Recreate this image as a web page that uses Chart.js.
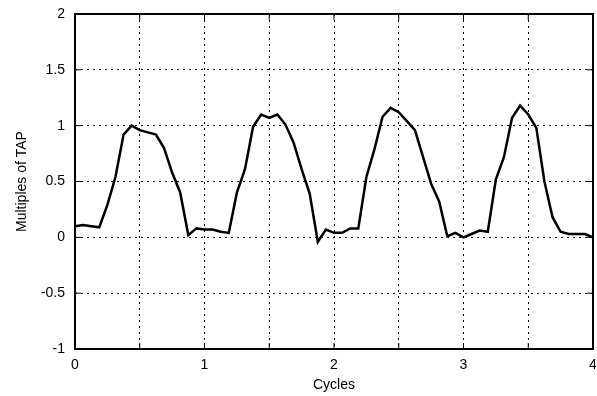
<!DOCTYPE html>
<html>
<head>
<meta charset="utf-8">
<script src="https://cdn.jsdelivr.net/npm/chart.js@4"></script>
<style>
  html, body { margin: 0; padding: 0; background: #fff; }
  #wrap { width: 597px; height: 396px; }
</style>
</head>
<body>
<div id="wrap"><canvas id="c"></canvas></div>
<script>
// ─── Data: one sample every 1/16 cycle ───────────────────────────
const STEP = 1 / 16;
const tapValues = [
  0.10, 0.11, 0.10, 0.09, 0.29, 0.54, 0.92, 1.00, 0.96, 0.94, 0.92, 0.80, 0.58, 0.40, 0.02, 0.08,
  0.07, 0.07, 0.05, 0.04, 0.40, 0.61, 0.99, 1.10, 1.07, 1.10, 1.01, 0.85, 0.61, 0.39, -0.04, 0.07,
  0.04, 0.04, 0.08, 0.08, 0.54, 0.79, 1.08, 1.16, 1.12, 1.04, 0.96, 0.72, 0.48, 0.32, 0.01, 0.04,
  0.00, 0.03, 0.06, 0.05, 0.52, 0.72, 1.07, 1.18, 1.10, 0.98, 0.50, 0.18, 0.05, 0.03, 0.03, 0.03,
  0.00
];
const xTicks = [0, 1, 2, 3, 4];
const yTicks = [-1, -0.5, 0, 0.5, 1, 1.5, 2];

const points = tapValues.map((v, i) => ({ x: i * STEP, y: v }));

const FONT = 'Liberation Sans, Arial, sans-serif';

// frame around the plot area, like the gnuplot border
const frame = {
  id: 'frame',
  afterDraw(chart) {
    const { ctx, chartArea: a, scales } = chart;
    ctx.save();
    ctx.strokeStyle = '#000';
    ctx.lineWidth = 2;
    ctx.strokeRect(a.left, a.top, a.right - a.left, a.bottom - a.top);
    // small inward tick marks
    ctx.lineWidth = 1;
    for (let v = 0; v <= 4; v += 0.5) {
      const px = scales.x.getPixelForValue(v);
      ctx.beginPath();
      ctx.moveTo(px, a.bottom); ctx.lineTo(px, a.bottom - 6);
      ctx.moveTo(px, a.top); ctx.lineTo(px, a.top + 6);
      ctx.stroke();
    }
    yTicks.forEach(v => {
      const py = scales.y.getPixelForValue(v);
      ctx.beginPath();
      ctx.moveTo(a.left, py); ctx.lineTo(a.left + 6, py);
      ctx.moveTo(a.right, py); ctx.lineTo(a.right - 6, py);
      ctx.stroke();
    });
    ctx.restore();
  }
};

new Chart(document.getElementById('c'), {
  type: 'scatter',
  data: {
    datasets: [{
      data: points,
      showLine: true,
      borderColor: '#000',
      borderWidth: 2.5,
      pointRadius: 0,
      tension: 0,
      fill: false,
    }],
  },
  plugins: [frame],
  options: {
    responsive: true,
    maintainAspectRatio: false,
    animation: false,
    layout: { padding: { top: 14, left: 14, right: 4, bottom: 0 } },
    plugins: { legend: { display: false }, tooltip: { enabled: false } },
    scales: {
      x: {
        type: 'linear',
        min: 0, max: 4,
        afterBuildTicks: s => { s.ticks = [0, 0.5, 1, 1.5, 2, 2.5, 3, 3.5, 4].map(v => ({ value: v })); },
        ticks: {
          color: '#000',
          padding: 8,
          maxRotation: 0,
          autoSkip: false,
          font: { size: 14, family: FONT },
          callback: v => xTicks.includes(v) ? String(v) : '',
        },
        grid: { color: '#000', lineWidth: 1, drawTicks: false },
        border: { display: false, dash: [2, 4] },
        title: { display: true, text: 'Cycles', color: '#000', padding: { top: 0, bottom: 2 }, font: { size: 14, family: FONT } },
        afterFit: s => { s.height = 47; s.paddingRight = 0; s.paddingLeft = 0; },
      },
      y: {
        type: 'linear',
        min: -1, max: 2,
        afterBuildTicks: s => { s.ticks = yTicks.map(v => ({ value: v })); },
        ticks: {
          color: '#000',
          padding: 10,
          font: { size: 14, family: FONT },
          callback: v => String(v),
        },
        grid: { color: '#000', lineWidth: 1, drawTicks: false },
        border: { display: false, dash: [2, 4] },
        title: { display: true, text: 'Multiples of TAP', color: '#000', padding: { top: 0, bottom: 0 }, font: { size: 14, family: FONT } },
        afterFit: s => { s.width = 61; s.paddingTop = 0; s.paddingBottom = 0; },
      },
    },
  },
});
</script>
</body>
</html>
